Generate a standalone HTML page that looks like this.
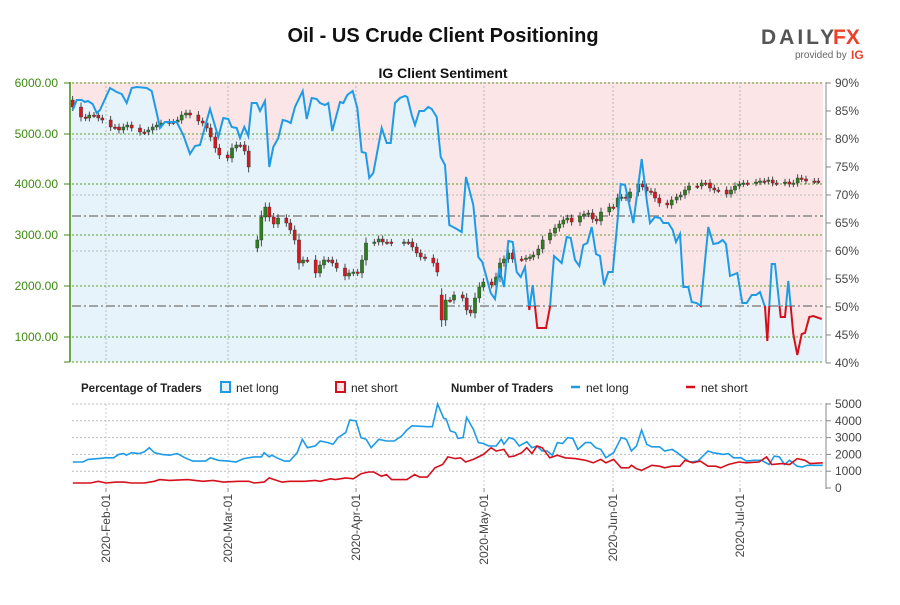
<!DOCTYPE html>
<html><head><meta charset="utf-8"><style>
body{margin:0;background:#fff;width:900px;height:600px;overflow:hidden;font-family:"Liberation Sans",sans-serif}
</style></head><body>
<svg id="s" width="900" height="600" xmlns="http://www.w3.org/2000/svg" font-family="Liberation Sans, sans-serif"></svg>
<script>
const S=document.getElementById('s');let h='';
const X0=72,X1=823,T=82,B=362;
// backgrounds
h+=`<rect x="${X0}" y="${T}" width="${X1-X0}" height="${B-T}" fill="#fbe5e6"/>`;
const sent=[[72.7,110],[76.7,100],[81.7,100],[85,102],[88,101],[92.7,104],[96.7,113],[100,110],[110,88],[116.7,92],[121.7,94],[126.7,103],[131.7,88],[136.7,87],[146.7,88],[151.7,91],[156.7,113],[160,128],[165,122],[176.7,122],[183.3,135],[190,154],[195,146],[200,145],[210,109],[218.3,137],[223.3,118],[228.3,119],[231.7,127],[236.7,128],[240,138],[244.3,127],[248.3,136],[251.7,103],[256.7,103],[260,111],[265,101],[269.3,167],[273.3,147],[278.3,138],[282.7,120],[286.7,121],[290.7,123],[295,107],[302.7,91],[306.7,119],[311.7,98],[316.7,99],[320,103],[325,105],[328.3,103],[332.3,131],[340,102],[343.3,103],[347.3,95],[352.7,91],[357.3,108],[361.7,152],[365.7,153],[369.3,178],[373.3,173],[381.7,128],[386.7,143],[390.7,143],[395,103],[400,98],[405,96],[407.3,97],[411.7,115],[415,125],[419.3,111],[424,111],[428.3,107],[431.7,109],[436.7,117],[440.7,157],[445,165],[449.3,225],[456.7,229],[461.7,232],[466,177],[473.3,205],[478.3,257],[482.3,262],[486.7,278],[490.7,293],[495,299],[499.3,268],[504,287],[508.3,241],[512.7,242],[516.7,272],[520.7,277],[525,267],[529.3,310],[532.7,285],[537.3,328],[546,328],[550,307],[554,256],[561.7,263],[566.7,237],[570.7,238],[575,260],[579.3,266],[583.3,245],[587.3,243],[591.7,227],[596,254],[600,256],[604,285],[608.3,272],[612.7,272],[616.7,230],[620.7,184],[625,185],[633.3,223],[641.7,159],[646.7,200],[650,223],[655,217],[660,218],[663.3,223],[668.3,223],[672.7,230],[676,242],[680,234],[683.3,287],[688.3,287],[691.7,302],[696.7,303],[700.7,306],[708.3,227],[713.3,244],[718.3,243],[722.7,240],[726,244],[730,276],[737.3,273],[742.3,303],[746.7,303],[751.7,295],[756,295],[760,292],[765,307],[767.3,341],[771.7,264],[775,264],[780.7,317],[785,317],[788.3,281],[793.3,334],[797.3,355],[801.7,334],[805,333],[809.3,317],[813.3,316],[821.7,319]];
const pts=sent.map(p=>p.join(',')).join(' ');
h+=`<polygon points="${X0},${B} ${X0},110 ${pts} ${X1},319 ${X1},${B}" fill="#e6f3fb"/>`;
// grids
[83,134,184,235,286,337,362].forEach(y=>h+=`<line x1="${X0}" x2="${X1}" y1="${y}" y2="${y}" stroke="#5a9e2a" stroke-dasharray="2,2" stroke-width="1"/>`);
[139,195,251].forEach(y=>h+=`<line x1="${X0}" x2="${X1}" y1="${y}" y2="${y}" stroke="#bbb" stroke-dasharray="2,2"/>`);
const months=[106,228,356,484,613,740];
months.forEach(x=>{h+=`<line x1="${x}" x2="${x}" y1="${T}" y2="${B}" stroke="#bbb" stroke-dasharray="2,2"/>`;h+=`<line x1="${x}" x2="${x}" y1="404" y2="488" stroke="#ccc" stroke-dasharray="2,2"/>`;});
[216,306].forEach(y=>h+=`<line x1="${X0}" x2="${X1}" y1="${y}" y2="${y}" stroke="#888" stroke-width="1.6" stroke-dasharray="9,3,2,3"/>`);
// candles
const cl=[[72.7,107],[81,117],[85.7,118],[89.3,115],[94,115],[98.3,118],[102.3,120],[110.7,127],[115,127],[119,130],[123.3,127],[127.3,125],[131.7,128],[140,132],[144.3,132],[148.3,130],[152.7,127],[156.7,125],[161,123],[169.3,122],[173.3,122],[177.7,120],[181.7,115],[186,113],[190,115],[198.3,121],[202.7,123],[206.7,128],[210.7,137],[215.3,148],[219.3,155],[227.7,158],[232,148],[236.3,145],[240.3,145],[244.7,151],[248.7,167],[257.3,240],[261.3,217],[265.3,207],[269.3,217],[273.7,224],[278,218],[286.3,223],[290.3,230],[294.7,240],[299,263],[303,260],[307.3,260],[315.7,273],[320,265],[324,260],[328.3,260],[332.3,263],[336.7,268],[345,276],[349,273],[353.3,272],[357.7,273],[362,260],[366,243],[374.3,242],[378.7,239],[382.7,242],[387,242],[391.3,243],[404,242],[408.3,242],[412.3,247],[416.7,253],[420.7,257],[425,258],[433.3,263],[437.3,272],[441.7,320],[445.7,300],[450,300],[454,295],[462.7,298],[466.7,310],[470.7,313],[475,298],[479.3,287],[483.3,282],[491.7,285],[496,277],[500,263],[504,259],[508.3,253],[512.7,259],[521.7,259],[526,258],[530,257],[533.3,255],[538.3,249],[542.7,240],[550,233],[555,228],[559.3,224],[563.3,220],[567.3,218],[571.7,222],[580,216],[584,214],[588.3,213],[592.7,219],[596.7,221],[601,212],[609.3,207],[613.3,207],[617.7,198],[621.7,197],[626,198],[630,192],[638.3,184],[642.7,187],[646.7,191],[651,192],[655,198],[659.3,203],[667.3,205],[671.7,200],[676.7,197],[680.7,195],[685,190],[689,186],[697.3,186],[701.7,183],[705.7,183],[710,188],[714.3,190],[718.3,190],[726.7,194],[731,190],[735,186],[739.3,184],[743.3,183],[747.7,183],[756,182],[760,181],[764.3,181],[768.3,180],[772.7,183],[776.7,183],[785,182],[789.3,184],[793.3,183],[797.7,178],[801.7,179],[806,181],[814.3,181],[818.3,181]];
let prev=100;
cl.forEach((c,i)=>{let [x,y]=c;let o=(i==0)?100:prev;if(i==37)o=248;if(Math.abs(o-y)>40)o=y+(o>y?25:-25);
const up=y<o;const top=Math.min(o,y),bot=Math.max(o,y);const hgt=Math.max(1.5,bot-top);
const col=up?'#2e7d1e':'#d8161e';
h+=`<line x1="${x}" x2="${x}" y1="${top-3-(bot-top)*0.15}" y2="${bot+3+(bot-top)*0.15}" stroke="#222" stroke-width="0.8"/>`;
h+=`<rect x="${x-1.6}" y="${top}" width="3.2" height="${hgt}" fill="${col}" stroke="#333" stroke-width="0.4"/>`;prev=y;});
// sentiment line
h+=`<defs><clipPath id="ca"><rect x="0" y="0" width="900" height="306"/></clipPath><clipPath id="cb"><rect x="0" y="306" width="900" height="100"/></clipPath></defs>`;
h+=`<polyline points="${pts}" fill="none" stroke="#1e9be6" stroke-width="2" clip-path="url(#ca)"/>`;
h+=`<polyline points="${pts}" fill="none" stroke="#d4101c" stroke-width="2" clip-path="url(#cb)"/>`;
// axes
h+=`<line x1="70" x2="70" y1="82" y2="362" stroke="#3c8a10" stroke-width="1.5"/>`;
[["6000.00",83],["5000.00",134],["4000.00",184],["3000.00",235],["2000.00",286],["1000.00",337]].forEach(([t,y])=>{h+=`<line x1="64" x2="70" y1="${y}" y2="${y}" stroke="#3c8a10"/><text x="58" y="${y+4}" font-size="12" fill="#3c8a10" text-anchor="end">${t}</text>`});
h+=`<line x1="64" x2="70" y1="362" y2="362" stroke="#3c8a10"/>`;
h+=`<line x1="826" x2="826" y1="82" y2="363" stroke="#888"/>`;
for(let i=0;i<=10;i++){const p=90-5*i,y=83+i*28;h+=`<line x1="826" x2="831" y1="${y}" y2="${y}" stroke="#888"/><text x="835" y="${y+4}" font-size="12" fill="#444">${p}%</text>`;}
// titles
h+=`<text x="443" y="42" font-size="20" font-weight="bold" text-anchor="middle" fill="#111">Oil - US Crude Client Positioning</text>`;
h+=`<text x="443" y="78" font-size="14" font-weight="bold" text-anchor="middle" fill="#111">IG Client Sentiment</text>`;
h+=`<text x="761" y="44" font-size="21" font-weight="bold" fill="#555" letter-spacing="3">DAILY</text><text x="833" y="44" font-size="21" font-weight="bold" fill="#e8432a">FX</text>`;
h+=`<text x="795" y="58" font-size="10" fill="#666">provided by</text><text x="851" y="59" font-size="12" font-weight="bold" fill="#e8432a">IG</text>`;
// legend
h+=`<g font-size="12" fill="#222"><text x="81" y="392" font-weight="bold" font-size="11.5">Percentage of Traders</text>
<rect x="221" y="382" width="9" height="10" fill="#e6f3fb" stroke="#1e9be6" stroke-width="2"/><text x="236" y="392">net long</text>
<rect x="336" y="382" width="9" height="10" fill="#fbe5e6" stroke="#d4101c" stroke-width="2"/><text x="351" y="392">net short</text>
<text x="451" y="392" font-weight="bold" font-size="11.5">Number of Traders</text>
<line x1="571" x2="580" y1="387" y2="387" stroke="#1e9be6" stroke-width="2.5"/><text x="586" y="392">net long</text>
<line x1="686" x2="695" y1="387" y2="387" stroke="#d4101c" stroke-width="2.5"/><text x="701" y="392">net short</text></g>`;
// bottom chart
const vy=v=>488-v*0.0168;
[5000,4000,3000,2000,1000].forEach(v=>h+=`<line x1="${X0}" x2="${X1}" y1="${vy(v)}" y2="${vy(v)}" stroke="#bbb" stroke-dasharray="2,2"/>`);
h+=`<line x1="826" x2="826" y1="403" y2="489" stroke="#888"/>`;
[5000,4000,3000,2000,1000,0].forEach(v=>h+=`<line x1="826" x2="831" y1="${vy(v)}" y2="${vy(v)}" stroke="#888"/><text x="835" y="${vy(v)+4}" font-size="12" fill="#444">${v}</text>`);
const bl=[[25,1550],[45,1550],[55,1700],[75,1750],[90,1800],[105,1800],[115,2000],[125,2050],[130,1950],[140,2100],[155,2050],[165,2150],[175,2400],[185,2100],[200,2000],[215,1950],[230,2050],[245,1800],[260,1600],[285,1600],[295,1800],[310,1650],[330,1600],[345,1550],[360,1750],[380,1850],[395,1850],[400,2100],[410,1850],[415,1950],[425,1800],[440,1600],[450,1600],[465,2100],[475,2900],[485,2400],[500,2500],[510,2800],[525,2700],[535,2600],[545,3000],[560,3300],[568,4050],[580,4000],[590,3000],[600,2900],[610,2400],[625,2900],[640,2800],[655,2800],[670,3100],[680,3450],[690,3700],[720,3650],[730,3650],[740,5000],[752,4150],[757,4100],[765,3400],[775,3300],[780,2950],[790,3000],[797,4200],[810,3500],[820,2700],[830,2650],[840,2500],[855,2500],[865,2900],[870,2600],[880,3000],[890,2900],[900,2500],[915,2750],[925,2400],[935,2500],[945,2200],[955,2200],[965,1950],[975,2700],[985,2650],[995,3000],[1005,2950],[1015,2300],[1030,2700],[1040,2700],[1050,2400],[1060,2300],[1070,1800],[1085,2100],[1100,3000],[1110,2900],[1120,2200],[1130,2500],[1140,3450],[1150,2600],[1160,2450],[1175,2450],[1185,2200],[1200,2300],[1210,2100],[1220,1850],[1235,1550],[1250,1600],[1270,2200],[1280,2100],[1300,2000],[1310,2050],[1320,1800],[1335,1800],[1345,1600],[1360,1650],[1375,1650],[1390,1400],[1400,1900],[1410,1850],[1420,1400],[1430,1650],[1445,1300],[1455,1250],[1465,1350],[1495,1350]];
const rd=[[25,300],[60,300],[75,400],[90,300],[110,350],[125,350],[140,300],[165,300],[185,400],[195,500],[215,450],[250,500],[280,400],[300,450],[320,350],[350,400],[370,400],[380,300],[400,350],[410,600],[420,500],[435,350],[450,400],[480,400],[500,450],[510,400],[530,550],[540,500],[560,600],[575,550],[590,850],[605,950],[615,950],[630,700],[640,800],[650,500],[680,500],[695,800],[705,650],[720,650],[735,1200],[750,1400],[760,1850],[775,1750],[785,1800],[795,1550],[810,1700],[830,2000],[845,2400],[855,2200],[870,2300],[880,1850],[890,1900],[905,2100],[915,2400],[925,2050],[935,2500],[945,2400],[960,1800],[975,1950],[990,1800],[1010,1750],[1030,1650],[1045,1500],[1060,1700],[1070,1500],[1085,1700],[1100,1200],[1115,1200],[1120,1350],[1130,1150],[1140,1050],[1160,1350],[1175,1300],[1185,1200],[1200,1300],[1215,1300],[1225,1650],[1240,1500],[1255,1600],[1270,1300],[1285,1300],[1295,1200],[1310,1400],[1330,1550],[1345,1500],[1370,1550],[1385,1850],[1395,1400],[1415,1450],[1430,1400],[1445,1750],[1460,1650],[1470,1450],[1495,1500]];
const tp=a=>a.map(([zx,v])=>`${(60+zx/1.96).toFixed(1)},${vy(v).toFixed(1)}`).join(' ');
h+=`<polyline points="${tp(bl)}" fill="none" stroke="#1e9be6" stroke-width="1.6"/>`;
h+=`<polyline points="${tp(rd)}" fill="none" stroke="#d4101c" stroke-width="1.6"/>`;
const ml=["2020-Feb-01","2020-Mar-01","2020-Apr-01","2020-May-01","2020-Jun-01","2020-Jul-01"];
months.forEach((x,i)=>{h+=`<line x1="${x}" x2="${x}" y1="488" y2="492" stroke="#888"/><text transform="translate(${x+4},494) rotate(-90)" font-size="12" fill="#444" text-anchor="end">${ml[i]}</text>`});
S.innerHTML=h;
</script>
</body></html>
